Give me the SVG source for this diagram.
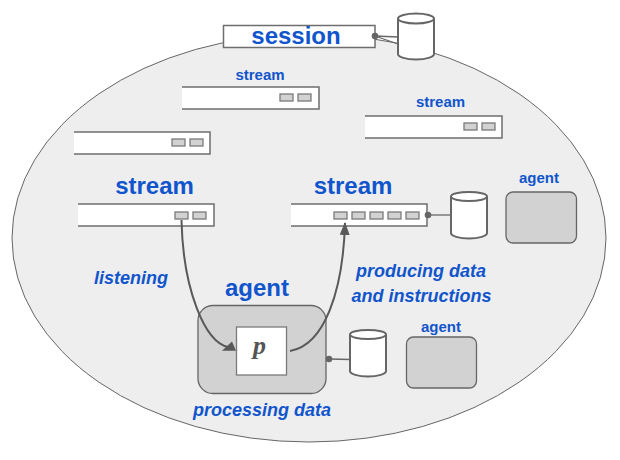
<svg xmlns="http://www.w3.org/2000/svg" width="620" height="460" viewBox="0 0 620 460">
<style>
text{font-family:"Liberation Sans",Arial,sans-serif;font-weight:bold;fill:#1155cc}
.bar{fill:#fff;stroke:#6e6e6e;stroke-width:1.5}
.face{fill:#fff;stroke:none}
.slot{fill:#d2d2d2;stroke:#7a7a7a;stroke-width:1.3}
.cyl{fill:#fff;stroke:#666;stroke-width:2}
.ag{fill:#d2d2d2;stroke:#666;stroke-width:1.3}
.lk{fill:none;stroke:#666;stroke-width:1.3}
.dot{fill:#666}
.arc{fill:none;stroke:#595959;stroke-width:2}
.head{fill:#595959}
.lg{font-size:24px}.md{font-size:15px}.it{font-size:18px;font-style:italic}
</style>
<defs>
<marker id="ah" viewBox="0 0 13 10" refX="12" refY="5" markerWidth="13" markerHeight="10" markerUnits="userSpaceOnUse" orient="auto"><path d="M0 0L13 5L0 10Z" fill="#595959"/></marker>
</defs>
<ellipse id="session-area" cx="309" cy="238" rx="297" ry="204" fill="#eeeeee" stroke="#666" stroke-width="1"/>
<g id="session"><rect class="bar" x="223.500" y="25.500" width="151.500" height="22"/><text x="296" y="44" font-size="24" text-anchor="middle">session</text></g>
<g id="session-store"><path class="cyl" d="M398 18.500V54A18 5.500 0 0 0 434 54V18.500A18 5 0 0 0 398 18.500A18 5 0 0 0 434 18.500"/></g>
<g id="stream-a"><text class="md" x="260" y="80" text-anchor="middle">stream</text><rect class="face" x="182" y="87" width="137" height="22"/><path class="bar" d="M182 87H319V109H182"/><rect class="slot" x="280" y="94" width="13" height="7"/><rect class="slot" x="298" y="94" width="13" height="7"/></g>
<g id="stream-b"><text class="md" x="440.500" y="107" text-anchor="middle">stream</text><rect class="face" x="365" y="116" width="137" height="22"/><path class="bar" d="M365 116H502V138H365"/><rect class="slot" x="464" y="123" width="13" height="7"/><rect class="slot" x="482" y="123" width="13" height="7"/></g>
<g id="stream-c"><rect class="face" x="74" y="132" width="136" height="22"/><path class="bar" d="M74 132H210V154H74"/><rect class="slot" x="172" y="139" width="13" height="7"/><rect class="slot" x="190" y="139" width="13" height="7"/></g>
<g id="stream-listen"><text class="lg" x="154.500" y="194" text-anchor="middle">stream</text><rect class="face" x="78" y="204" width="136" height="22"/><path class="bar" d="M78 204H214V226H78"/><rect class="slot" x="175" y="212" width="13" height="7"/><rect class="slot" x="193" y="212" width="13" height="7"/></g>
<g id="stream-produce"><text class="lg" x="353" y="194" text-anchor="middle">stream</text><rect class="face" x="291" y="204" width="136" height="22"/><path class="bar" d="M291 204H427V226H291"/><rect class="slot" x="334" y="212" width="13" height="7"/><rect class="slot" x="352" y="212" width="13" height="7"/><rect class="slot" x="370" y="212" width="13" height="7"/><rect class="slot" x="388" y="212" width="13" height="7"/><rect class="slot" x="406" y="212" width="13" height="7"/></g>
<g id="store-produce"><path class="cyl" d="M451 196.500V233A18 5.500 0 0 0 487 233V196.500A18 4.500 0 0 0 451 196.500A18 4.500 0 0 0 487 196.500"/></g>
<g id="agent-right"><text class="md" x="539" y="183" text-anchor="middle">agent</text><rect class="ag" x="506" y="192" width="70.500" height="51" rx="7"/></g>
<g id="agent-main"><text class="lg" x="257" y="296" text-anchor="middle">agent</text><rect class="ag" x="198" y="305.500" width="128" height="88" rx="15"/><rect x="236.500" y="327" width="50" height="48" fill="#fff" stroke="#7a7a7a" stroke-width="1.300"/><text x="259.500" y="354" font-size="26" text-anchor="middle" style="font-family:'Liberation Serif',serif;fill:#555;font-style:italic">p</text></g>
<g id="store-main"><path class="cyl" d="M350 334.500V371A18 5.500 0 0 0 386 371V334.500A18 4.500 0 0 0 350 334.500A18 4.500 0 0 0 386 334.500"/></g>
<g id="agent-lower"><text class="md" x="441" y="332" text-anchor="middle">agent</text><rect class="ag" x="406.500" y="337" width="70" height="51" rx="7"/></g>
<g id="labels"><text class="it" x="131" y="284" text-anchor="middle">listening</text><text class="it" x="421" y="277" text-anchor="middle">producing data</text><text class="it" x="421.500" y="302" text-anchor="middle">and instructions</text><text class="it" x="262" y="416" text-anchor="middle">processing data</text></g>
<g id="connectors">
<path class="lk" d="M375 36L398 37M375 36L398 44"/><circle class="dot" cx="375" cy="36" r="3.300"/>
<path class="lk" d="M428 215L451 215"/><circle class="dot" cx="428" cy="215" r="3.300"/>
<path class="lk" d="M329 359L350 359.500"/><circle class="dot" cx="329" cy="359" r="3.300"/>
<path class="arc" d="M181.500 220C183 290 205 342 228 347"/><path class="head" d="M222 350.800L232 341.500L236 350.800Z"/>
<path class="arc" d="M290 351C325 345 343 290 345 223" marker-end="url(#ah)"/>
</g>
</svg>
